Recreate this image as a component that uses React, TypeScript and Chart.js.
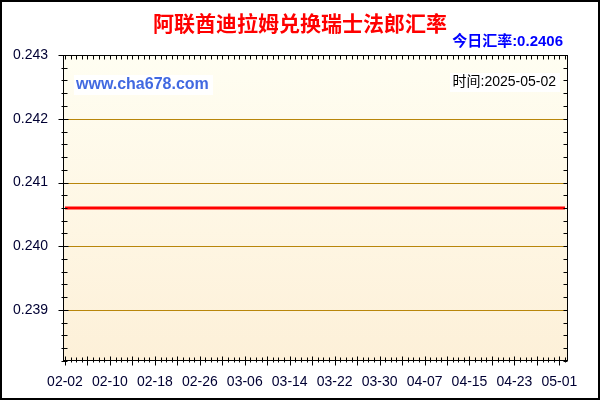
import React, { useEffect, useRef } from 'react';
import { Chart, registerables } from 'chart.js';

Chart.register(...registerables);

const dates = [
  '02-02', '02-03', '02-04', '02-05', '02-06', '02-07', '02-08', '02-09', '02-10', '02-11',
  '02-12', '02-13', '02-14', '02-15', '02-16', '02-17', '02-18', '02-19', '02-20', '02-21',
  '02-22', '02-23', '02-24', '02-25', '02-26', '02-27', '02-28',
  '03-01', '03-02', '03-03', '03-04', '03-05', '03-06', '03-07', '03-08', '03-09', '03-10',
  '03-11', '03-12', '03-13', '03-14', '03-15', '03-16', '03-17', '03-18', '03-19', '03-20',
  '03-21', '03-22', '03-23', '03-24', '03-25', '03-26', '03-27', '03-28', '03-29', '03-30', '03-31',
  '04-01', '04-02', '04-03', '04-04', '04-05', '04-06', '04-07', '04-08', '04-09', '04-10',
  '04-11', '04-12', '04-13', '04-14', '04-15', '04-16', '04-17', '04-18', '04-19', '04-20',
  '04-21', '04-22', '04-23', '04-24', '04-25', '04-26', '04-27', '04-28', '04-29', '04-30',
  '05-01', '05-02',
];

const rates = [
  0.2406, 0.2406, 0.2406, 0.2406, 0.2406, 0.2406, 0.2406, 0.2406, 0.2406, 0.2406,
  0.2406, 0.2406, 0.2406, 0.2406, 0.2406, 0.2406, 0.2406, 0.2406, 0.2406, 0.2406,
  0.2406, 0.2406, 0.2406, 0.2406, 0.2406, 0.2406, 0.2406,
  0.2406, 0.2406, 0.2406, 0.2406, 0.2406, 0.2406, 0.2406, 0.2406, 0.2406, 0.2406,
  0.2406, 0.2406, 0.2406, 0.2406, 0.2406, 0.2406, 0.2406, 0.2406, 0.2406, 0.2406,
  0.2406, 0.2406, 0.2406, 0.2406, 0.2406, 0.2406, 0.2406, 0.2406, 0.2406, 0.2406, 0.2406,
  0.2406, 0.2406, 0.2406, 0.2406, 0.2406, 0.2406, 0.2406, 0.2406, 0.2406, 0.2406,
  0.2406, 0.2406, 0.2406, 0.2406, 0.2406, 0.2406, 0.2406, 0.2406, 0.2406, 0.2406,
  0.2406, 0.2406, 0.2406, 0.2406, 0.2406, 0.2406, 0.2406, 0.2406, 0.2406, 0.2406,
  0.2406, 0.2406,
];

const xTickLabels = ['02-02', '02-10', '02-18', '02-26', '03-06', '03-14', '03-22', '03-30', '04-07', '04-15', '04-23', '05-01'];
const yTickValues = [0.239, 0.24, 0.241, 0.242, 0.243];

const titleText = '阿联酋迪拉姆兑换瑞士法郎汇率';
const todayText = '今日汇率:0.2406';
const siteText = 'www.cha678.com';
const timeText = '时间:2025-05-02';

const Y_MIN = 0.2382;
const Y_MAX = 0.243;
const X_MIN = -0.356;
const X_MAX = 89.534;

const FONT = '"Liberation Sans", Arial, "Noto Sans CJK SC", sans-serif';

export default function App() {
  const ref = useRef<HTMLCanvasElement>(null);

  useEffect(() => {
    document.body.style.margin = '0';
    const canvas = ref.current;
    if (!canvas) return;

    const line = (c: CanvasRenderingContext2D, x1: number, y1: number, x2: number, y2: number) => {
      c.beginPath();
      c.moveTo(x1, y1);
      c.lineTo(x2, y2);
      c.stroke();
    };

    const decor = {
      id: 'decor',
      beforeDraw(chart: any) {
        const c: CanvasRenderingContext2D = chart.ctx;
        const a = chart.chartArea;
        c.save();
        c.fillStyle = '#ffffff';
        c.fillRect(0, 0, chart.width, chart.height);
        const g = c.createLinearGradient(0, a.top, 0, a.bottom);
        g.addColorStop(0, '#FFFEF2');
        g.addColorStop(1, '#FDF0D8');
        c.fillStyle = g;
        c.fillRect(a.left, a.top, a.right - a.left, a.bottom - a.top);
        const ys = chart.scales.y;
        c.strokeStyle = '#B8860B';
        c.lineWidth = 1;
        for (const v of yTickValues) {
          if (v >= Y_MAX) continue;
          const py = Math.round(ys.getPixelForValue(v)) + 0.5;
          line(c, a.left, py, a.right, py);
        }
        c.restore();
      },
      afterDraw(chart: any) {
        const c: CanvasRenderingContext2D = chart.ctx;
        const a = chart.chartArea;
        const xs = chart.scales.x;
        const ys = chart.scales.y;
        c.save();
        c.strokeStyle = '#000000';
        c.lineWidth = 1;
        const L = Math.round(a.left) + 0.5;
        const R = Math.round(a.right) - 0.5;
        const T = Math.round(a.top) + 0.5;
        const B = Math.round(a.bottom) - 0.5;
        c.strokeRect(L, T, R - L, B - T);

        // x ticks (daily)
        for (let i = 0; i < dates.length; i++) {
          const px = Math.round(xs.getPixelForValue(i)) + 0.5;
          if (i % 4 === 0) line(c, px, B - 4, px, B + 5);
          else line(c, px, B - 3, px, B + 2);
          line(c, px, T, px, T + 4);
        }
        // y ticks
        for (let k = 2382; k <= 2430; k += 2) {
          const py = Math.round(ys.getPixelForValue(k / 10000)) + 0.5;
          if (k % 10 === 0) line(c, L - 5, py, L + 5, py);
          else line(c, L - 2, py, L + 4, py);
          line(c, R - 4, py, R, py);
        }

        // texts
        c.textBaseline = 'middle';
        c.fillStyle = '#ff0000';
        c.textAlign = 'center';
        c.font = 'bold 21px "Noto Sans CJK SC", sans-serif';
        c.fillText(titleText, 300, 23);

        c.fillStyle = '#0000ff';
        c.textAlign = 'right';
        c.font = 'bold 15px ' + FONT;
        c.fillText(todayText, 563, 42);

        c.fillStyle = '#ffffff';
        c.fillRect(74, 75, 139, 20);
        c.fillStyle = '#4169E1';
        c.textAlign = 'left';
        c.font = 'bold 16px ' + FONT;
        c.fillText(siteText, 76, 85);

        c.fillStyle = '#ffffff';
        c.fillRect(450, 73, 110, 19);
        c.fillStyle = '#000000';
        c.textAlign = 'right';
        c.font = '14px ' + FONT;
        c.fillText(timeText, 556, 82);

        c.lineWidth = 2;
        c.strokeStyle = '#000000';
        c.strokeRect(1, 1, chart.width - 2, chart.height - 2);
        c.restore();
      },
    };

    const chart = new Chart(canvas, {
      type: 'line',
      data: {
        datasets: [
          {
            data: rates.map((v, i) => ({ x: i, y: v })),
            borderColor: '#ff0000',
            borderWidth: 3,
            pointRadius: 0,
            fill: false,
            tension: 0,
          },
        ],
      },
      options: {
        responsive: false,
        animation: false,
        layout: { padding: { top: 55, right: 32, left: 0, bottom: 0 } },
        plugins: {
          legend: { display: false },
          tooltip: { enabled: false },
          title: { display: false },
        },
        scales: {
          x: {
            type: 'linear',
            min: X_MIN,
            max: X_MAX,
            grid: { display: false },
            border: { display: false },
            afterBuildTicks: (s: any) => {
              s.ticks = xTickLabels.map((l) => ({ value: dates.indexOf(l) }));
            },
            afterFit: (s: any) => {
              s.height = 39;
            },
            ticks: {
              autoSkip: false,
              maxRotation: 0,
              minRotation: 0,
              padding: 5,
              color: '#000033',
              font: { size: 14, family: FONT },
              callback: (v: any) => dates[Math.round(Number(v))],
            },
          },
          y: {
            min: Y_MIN,
            max: Y_MAX,
            grid: { display: false },
            border: { display: false },
            afterBuildTicks: (s: any) => {
              s.ticks = yTickValues.map((v) => ({ value: v }));
            },
            afterFit: (s: any) => {
              s.width = 63;
            },
            ticks: {
              padding: 7,
              color: '#000033',
              font: { size: 14, family: FONT },
              callback: (v: any) => Number(v).toFixed(3),
            },
          },
        },
      },
      plugins: [decor],
    });

    return () => chart.destroy();
  }, []);

  return (
    <div style={{ position: 'absolute', left: 0, top: 0, width: 600, height: 400 }}>
      <canvas ref={ref} width={600} height={400} />
    </div>
  );
}
